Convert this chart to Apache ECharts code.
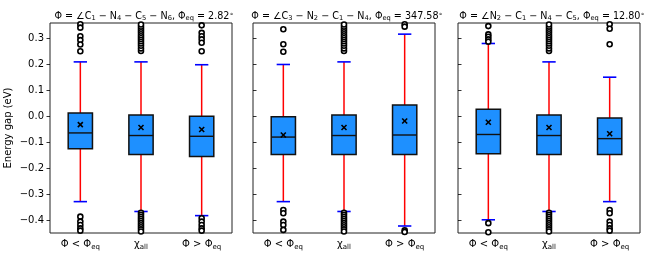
<!DOCTYPE html>
<html><head><meta charset="utf-8">
<script src="https://cdn.jsdelivr.net/npm/echarts@6/dist/echarts.min.js"></script>
<style>html,body{margin:0;padding:0;background:#fff}#c{width:669px;height:275px}</style>
</head><body><div id="c"></div>
<script>
// ---- data ----
const categories = ['lt', 'all', 'gt'];
const catLabels = ['Φ < Φ{sub|eq}', 'χ{sub|all}', 'Φ > Φ{sub|eq}'];
const titles = [
  'Φ = ∠C{sub|1} − N{sub|4} − C{sub|5} − N{sub|6}, Φ{sub|eq} = 2.82{sup|∘}',
  'Φ = ∠C{sub|3} − N{sub|2} − C{sub|1} − N{sub|4}, Φ{sub|eq} = 347.58{sup|∘}',
  'Φ = ∠N{sub|2} − C{sub|1} − N{sub|4} − C{sub|5}, Φ{sub|eq} = 12.80{sup|∘}'
];
const yTicks = [-0.4, -0.3, -0.2, -0.1, 0.0, 0.1, 0.2, 0.3];

// panel A
const lowA = [-0.329, -0.367, -0.383];
const q1A = [-0.125, -0.147, -0.155];
const medA = [-0.064, -0.074, -0.077];
const q3A = [0.013, 0.005, 0.000];
const highA = [0.210, 0.210, 0.199];
const meanA = [-0.032, -0.043, -0.051];
const outA_lt = [0.355, 0.342, 0.309, 0.294, 0.277, 0.251, -0.387, -0.406, -0.419, -0.432, -0.441];
const outAll = [0.252, 0.262, 0.272, 0.281, 0.290, 0.298, 0.306, 0.314, 0.322, 0.330, 0.338, 0.346, 0.354,
  -0.372, -0.380, -0.388, -0.396, -0.404, -0.412, -0.420, -0.428, -0.436, -0.444];
const outA_gt = [0.351, 0.322, 0.309, 0.297, 0.284, 0.251, -0.393, -0.406, -0.419, -0.432, -0.441];

// panel B
const lowB = [-0.329, -0.367, -0.423];
const q1B = [-0.147, -0.147, -0.147];
const medB = [-0.080, -0.074, -0.072];
const q3B = [-0.002, 0.005, 0.044];
const highB = [0.200, 0.210, 0.317];
const meanB = [-0.072, -0.043, -0.018];
const outB_lt = [0.336, 0.278, 0.249, -0.361, -0.374, -0.406, -0.419, -0.438];
const outB_gt = [0.355, 0.346, -0.440, -0.446];

// panel C
const lowC = [-0.399, -0.367, -0.329];
const q1C = [-0.144, -0.147, -0.147];
const medC = [-0.070, -0.074, -0.086];
const q3C = [0.027, 0.005, -0.006];
const highC = [0.281, 0.210, 0.151];
const meanC = [-0.023, -0.043, -0.067];
const outC_lt = [0.348, 0.316, 0.307, 0.297, 0.288, -0.412, -0.447];
const outC_gt = [0.355, 0.338, 0.278, -0.361, -0.374, -0.406, -0.419, -0.432, -0.441];

const panels = [
  {low: lowA, q1: q1A, med: medA, q3: q3A, high: highA, mean: meanA, out: [outA_lt, outAll, outA_gt]},
  {low: lowB, q1: q1B, med: medB, q3: q3B, high: highB, mean: meanB, out: [outB_lt, outAll, outB_gt]},
  {low: lowC, q1: q1C, med: medC, q3: q3C, high: highC, mean: meanC, out: [outC_lt, outAll, outC_gt]}
];

// ---- layout ----
const gridLefts = [50, 253, 458];
const gridW = 182;
const FONT = 'DejaVu Sans';
const richX = {
  sub: {fontSize: 7, fontFamily: FONT, color: '#000', padding: [6, 0, 0, 0]}
};
const richT = {
  sub: {fontSize: 6.7, fontFamily: FONT, color: '#000', padding: [5, 0, 0, 0]},
  sup: {fontSize: 6.7, fontFamily: FONT, color: '#000', padding: [0, 0, 4, 0]}
};
const fmt = v => { const r = Math.round(v * 10) / 10; return r < 0 ? '−' + Math.abs(r).toFixed(1) : r.toFixed(1); };

const chart = echarts.init(document.getElementById('c'), null, {renderer: 'canvas'});
const grids = [], xAxes = [], yAxes = [], series = [], title = [];

panels.forEach((p, i) => {
  grids.push({left: gridLefts[i], top: 23, width: gridW, height: 210, show: true,
    borderColor: '#222', borderWidth: 1, backgroundColor: 'transparent'});
  xAxes.push({type: 'category', gridIndex: i, data: categories, boundaryGap: true,
    axisLine: {show: false}, axisTick: {show: false}, splitLine: {show: false},
    axisLabel: {color: '#000', fontFamily: FONT, fontSize: 10, margin: 5, interval: 0, hideOverlap: false,
      formatter: (v, idx) => catLabels[idx], rich: richX}});
  yAxes.push({type: 'value', gridIndex: i, min: -0.45, max: 0.36,
    name: i === 0 ? 'Energy gap (eV)' : '', nameLocation: 'middle', nameGap: 37,
    nameTextStyle: {fontFamily: FONT, fontSize: 10, color: '#000'},
    axisLine: {show: false}, splitLine: {show: false},
    axisTick: {show: true, inside: i !== 0, length: 3.5, customValues: yTicks, lineStyle: {color: '#000', width: 0.8}},
    axisLabel: {show: i === 0, color: '#000', fontFamily: FONT, fontSize: 10, margin: 6,
      customValues: yTicks, formatter: fmt}});
  title.push({text: titles[i], left: gridLefts[i] + gridW / 2 - 2, top: 5, textAlign: 'center',
    textStyle: {fontFamily: FONT, fontSize: 9.6, fontWeight: 'normal', color: '#000', rich: richT}});

  const boxData = categories.map((c, k) => [k, p.low[k], p.q1[k], p.med[k], p.q3[k], p.high[k], p.mean[k]]);
  series.push({
    type: 'custom', xAxisIndex: i, yAxisIndex: i, data: boxData, clip: true, z: 2,
    renderItem: (params, api) => {
      const x = api.value(0);
      const bw = api.size([1, 0])[0] * 0.4;
      const cw = api.size([1, 0])[0] * 0.22;
      const pLow = api.coord([x, api.value(1)]);
      const pQ1 = api.coord([x, api.value(2)]);
      const pMed = api.coord([x, api.value(3)]);
      const pQ3 = api.coord([x, api.value(4)]);
      const pHigh = api.coord([x, api.value(5)]);
      const pMean = api.coord([x, api.value(6)]);
      const cx = pQ1[0];
      const m = 2.5;
      return {type: 'group', children: [
        {type: 'line', shape: {x1: cx, y1: pQ1[1], x2: cx, y2: pLow[1]}, style: {stroke: '#ff0000', lineWidth: 1.5}},
        {type: 'line', shape: {x1: cx, y1: pQ3[1], x2: cx, y2: pHigh[1]}, style: {stroke: '#ff0000', lineWidth: 1.5}},
        {type: 'line', shape: {x1: cx - cw / 2, y1: pLow[1], x2: cx + cw / 2, y2: pLow[1]}, style: {stroke: '#0000ff', lineWidth: 1.6}},
        {type: 'line', shape: {x1: cx - cw / 2, y1: pHigh[1], x2: cx + cw / 2, y2: pHigh[1]}, style: {stroke: '#0000ff', lineWidth: 1.6}},
        {type: 'rect', shape: {x: cx - bw / 2, y: pQ3[1], width: bw, height: pQ1[1] - pQ3[1]},
          style: {fill: '#1e90ff', stroke: '#111', lineWidth: 1.5}},
        {type: 'line', shape: {x1: cx - bw / 2, y1: pMed[1], x2: cx + bw / 2, y2: pMed[1]}, style: {stroke: '#111', lineWidth: 1.4}},
        {type: 'line', shape: {x1: pMean[0] - m, y1: pMean[1] - m, x2: pMean[0] + m, y2: pMean[1] + m}, style: {stroke: '#000', lineWidth: 1.6}},
        {type: 'line', shape: {x1: pMean[0] - m, y1: pMean[1] + m, x2: pMean[0] + m, y2: pMean[1] - m}, style: {stroke: '#000', lineWidth: 1.6}}
      ]};
    }
  });
  const outData = [];
  p.out.forEach((arr, k) => arr.forEach(v => outData.push([k, v])));
  series.push({type: 'scatter', xAxisIndex: i, yAxisIndex: i, data: outData, z: 3,
    symbol: 'circle', symbolSize: 5,
    itemStyle: {color: '#fff', borderColor: '#000', borderWidth: 1.6, opacity: 1}, silent: true});
});

chart.setOption({animation: false, backgroundColor: '#fff', title, grid: grids, xAxis: xAxes, yAxis: yAxes, series});
</script>
</body></html>
